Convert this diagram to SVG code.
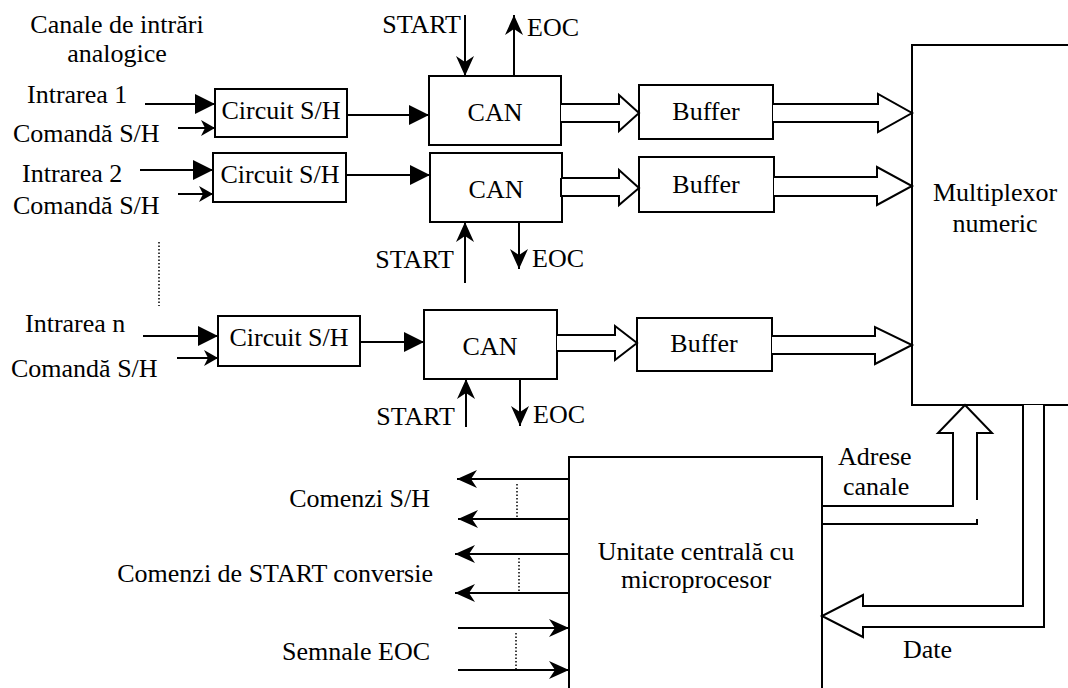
<svg xmlns="http://www.w3.org/2000/svg" width="1068" height="688" viewBox="0 0 1068 688">
<defs>
<style>
text{font-family:'Liberation Serif','Times New Roman',Times,'DejaVu Serif',serif;font-size:26px;fill:#000}
.box{fill:#fff;stroke:#000;stroke-width:2}
.ln{fill:none;stroke:#000;stroke-width:2}
.bus{fill:#fff;stroke:#000;stroke-width:2;stroke-linejoin:miter}
.dot{fill:none;stroke:#000;stroke-width:1.5;stroke-dasharray:1.5 2}
.m{text-anchor:middle}
.e{text-anchor:end}
</style>
<marker id="tri" markerUnits="userSpaceOnUse" viewBox="0 0 20 20" refX="20" refY="10" markerWidth="20" markerHeight="20" orient="auto">
<path d="M0,0 L20,10 L0,20 Z" fill="#000"/>
</marker>
<marker id="stl" markerUnits="userSpaceOnUse" viewBox="0 0 20 20" refX="20" refY="10" markerWidth="20" markerHeight="20" orient="auto">
<path d="M0,1 L20,10 L0,19 L6,10 Z" fill="#000"/>
</marker>
<marker id="sts" markerUnits="userSpaceOnUse" viewBox="0 0 14 16" refX="14" refY="8" markerWidth="14" markerHeight="16" orient="auto">
<path d="M0,0 L14,8 L0,16 L4,8 Z" fill="#000"/>
</marker>
</defs>
<g font-family="'Liberation Serif', 'Times New Roman', Times, 'DejaVu Serif', serif" font-size="26">
<g id="labels">
<text class="m" x="117" y="33">Canale de intrări</text>
<text class="m" x="117" y="62">analogice</text>
<text x="27" y="103">Intrarea 1</text>
<text x="13" y="142">Comandă S/H</text>
<text x="22" y="182">Intrarea 2</text>
<text x="13" y="214">Comandă S/H</text>
<text x="25" y="332">Intrarea n</text>
<text x="11" y="377">Comandă S/H</text>
<text class="e" x="461" y="33">START</text>
<text x="527" y="36">EOC</text>
<text class="e" x="454" y="268">START</text>
<text x="532" y="267">EOC</text>
<text class="e" x="455" y="425">START</text>
<text x="533" y="423">EOC</text>
<text class="e" x="430" y="507">Comenzi S/H</text>
<text class="e" x="433" y="582">Comenzi de START conversie</text>
<text class="e" x="430" y="660">Semnale EOC</text>
<text x="838" y="465">Adrese</text>
<text x="843" y="495">canale</text>
<text x="903" y="658">Date</text>
</g>

<g id="sh1"><rect class="box" x="215" y="89" width="132" height="48"/><text class="m" x="281" y="119">Circuit S/H</text></g>
<g id="sh2"><rect class="box" x="213" y="153" width="133" height="49"/><text class="m" x="280" y="183">Circuit S/H</text></g>
<g id="sh3"><rect class="box" x="218" y="316" width="142" height="50"/><text class="m" x="289" y="346">Circuit S/H</text></g>

<g id="can1"><rect class="box" x="429" y="76" width="132" height="69"/><text class="m" x="495" y="121">CAN</text></g>
<g id="can2"><rect class="box" x="430" y="153" width="132" height="69"/><text class="m" x="496" y="198">CAN</text></g>
<g id="can3"><rect class="box" x="424" y="310" width="133" height="69"/><text class="m" x="490" y="355">CAN</text></g>

<g id="buf1"><rect class="box" x="639" y="85" width="134" height="54"/><text class="m" x="706" y="120">Buffer</text></g>
<g id="buf2"><rect class="box" x="639" y="157" width="135" height="55"/><text class="m" x="706" y="193">Buffer</text></g>
<g id="buf3"><rect class="box" x="637" y="318" width="135" height="53"/><text class="m" x="704" y="352">Buffer</text></g>

<g id="mux"><rect class="box" x="912" y="45" width="180" height="360"/><text class="m" x="995" y="201">Multiplexor</text><text class="m" x="995" y="232">numeric</text></g>

<g id="cpu"><rect class="box" x="569" y="457" width="253" height="250"/><text class="m" x="696" y="560">Unitate centrală cu</text><text class="m" x="696" y="588">microprocesor</text></g>

<g id="connectors">
<line class="ln" x1="145" y1="104" x2="215" y2="104" marker-end="url(#tri)"/>
<line class="ln" x1="178" y1="128" x2="215" y2="128" marker-end="url(#sts)"/>
<line class="ln" x1="140" y1="170" x2="213" y2="170" marker-end="url(#tri)"/>
<line class="ln" x1="178" y1="194" x2="213" y2="194" marker-end="url(#sts)"/>
<line class="ln" x1="143" y1="336" x2="218" y2="336" marker-end="url(#tri)"/>
<line class="ln" x1="177" y1="358" x2="218" y2="358" marker-end="url(#sts)"/>
<line class="dot" x1="159" y1="242" x2="159" y2="306"/>
<line class="ln" x1="347" y1="115" x2="429" y2="115" marker-end="url(#tri)"/>
<line class="ln" x1="346" y1="175" x2="430" y2="175" marker-end="url(#tri)"/>
<line class="ln" x1="360" y1="342" x2="424" y2="342" marker-end="url(#tri)"/>
<line class="ln" x1="465" y1="15" x2="465" y2="76" marker-end="url(#stl)"/>
<line class="ln" x1="514" y1="76" x2="514" y2="15" marker-end="url(#stl)"/>
<line class="ln" x1="465" y1="283" x2="465" y2="222" marker-end="url(#stl)"/>
<line class="ln" x1="519" y1="222" x2="519" y2="269" marker-end="url(#stl)"/>
<line class="ln" x1="466" y1="427" x2="466" y2="379" marker-end="url(#stl)"/>
<line class="ln" x1="520" y1="379" x2="520" y2="426" marker-end="url(#stl)"/>
<polyline class="bus" points="561,104 619,104 619,95 639,113 619,131 619,122 561,122"/>
<polyline class="bus" points="561,178 619,178 619,170 639,188 619,205 619,196 561,196 561,178"/>
<polyline class="bus" points="557,335 615,335 615,326 637,343 615,360 615,351 557,351"/>
<polyline class="bus" points="773,104 878,104 878,94 912,113 878,132 878,122 773,122"/>
<polyline class="bus" points="774,177 877,177 877,167 912,186 877,205 877,196 774,196"/>
<polyline class="bus" points="772,336 875,336 875,327 912,345 875,364 875,354 772,354"/>
<polyline class="bus" points="822,506 953,506 953,433 938,433 965,405 992,433 977,433 977,500"/>
<polyline class="ln" points="822,524 977,524 977,519"/>
<polyline class="bus" points="1023,405 1023,606 863,606 863,595 822,616 863,637 863,627 1044,627 1044,405"/>
<line class="ln" x1="569" y1="479" x2="457" y2="479" marker-end="url(#stl)"/>
<line class="ln" x1="569" y1="519" x2="458" y2="519" marker-end="url(#stl)"/>
<line class="dot" x1="517" y1="484" x2="517" y2="519"/>
<line class="ln" x1="569" y1="554" x2="455" y2="554" marker-end="url(#stl)"/>
<line class="ln" x1="569" y1="593" x2="455" y2="593" marker-end="url(#stl)"/>
<line class="dot" x1="519" y1="558" x2="519" y2="593"/>
<line class="ln" x1="458" y1="628" x2="569" y2="628" marker-end="url(#stl)"/>
<line class="ln" x1="458" y1="670" x2="569" y2="670" marker-end="url(#stl)"/>
<line class="dot" x1="516" y1="633" x2="516" y2="670"/>
</g>
</g>
</svg>
